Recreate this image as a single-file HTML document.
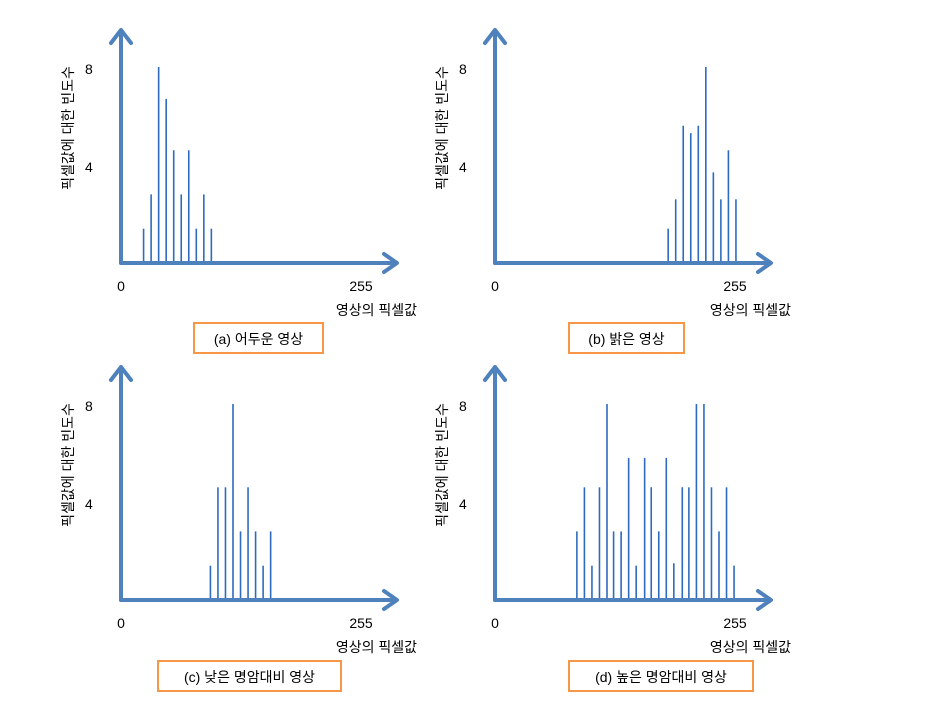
<!DOCTYPE html>
<html><head><meta charset="utf-8"><style>
html,body{margin:0;padding:0;background:#fff;width:945px;height:702px;overflow:hidden}
svg text{font-family:"Liberation Sans","Noto Sans CJK KR",sans-serif;fill:#000}
</style></head><body>
<svg id="s" width="945" height="702" xmlns="http://www.w3.org/2000/svg">
<defs><marker id="ar" markerWidth="6" markerHeight="6" refX="3" refY="3" orient="auto" markerUnits="userSpaceOnUse" viewBox="0 0 6 6"></marker></defs>
</svg>
<script>
const panelTitles = ["(a) 어두운 영상","(b) 밝은 영상","(c) 낮은 명암대비 영상","(d) 높은 명암대비 영상"];
const tickLabelsY = [8,4];
const tickLabelsX = [0,255];
const pixA = [24,32,40,48,56,64,72,80,88,96];
const freqA = [1.4,2.8,8,6.7,4.6,2.8,4.6,1.4,2.8,1.4];
const pixB = [184,192,200,208,216,224,232,240,248,256];
const freqB = [1.4,2.6,5.6,5.3,5.6,8,3.7,2.6,4.6,2.6];
const pixC = [95,103,111,119,127,135,143,151,159];
const freqC = [1.4,4.6,4.6,8,2.8,4.6,2.8,1.4,2.8];
const pixD = [87,95,103,111,119,126,134,142,150,159,166,174,182,190,199,206,214,222,230,238,246,254];
const freqD = [2.8,4.6,1.4,4.6,8,2.8,2.8,5.8,1.4,5.8,4.6,2.8,5.8,1.5,4.6,4.6,8,8,4.6,2.8,4.6,1.4];

const pixs=[pixA,pixB,pixC,pixD], freqs=[freqA,freqB,freqC,freqD];
const ox=[121,495,121,495], oy=[263,263,600,600];
const boxes=[[194,323,129],[569,323,115],[158,661,183],[569,661,184]];
const s=document.getElementById('s');
const NS='http://www.w3.org/2000/svg';
function mk(t,a,p){const e=document.createElementNS(NS,t);for(const k in a)e.setAttribute(k,a[k]);(p||s).appendChild(e);return e;}
const blue='#4f81bd';
for(let i=0;i<4;i++){
  const X=ox[i],Y=oy[i];
  const xs=v=>X+v*(240/255), ys=v=>Y-v*24.5;
  const g=mk('g',{});
  
  
  // bars
  pixs[i].forEach((p,j)=>{
    const b=mk('line',{x1:xs(p),x2:xs(p),y1:Y,y2:ys(freqs[i][j]),stroke:'#2e6bc0','stroke-width':1.6},g);
    
    
  });
  // axes
  const ya=mk('path',{d:`M${X} ${Y} L${X} ${Y-232} M${X-10} ${Y-220} L${X} ${Y-233} L${X+10} ${Y-220}`,stroke:blue,'stroke-width':4,fill:'none','stroke-linecap':'round','stroke-linejoin':'round'},g);
  
  
  const xa=mk('path',{d:`M${X} ${Y} L${X+275} ${Y} M${X+263} ${Y-9} L${X+276} ${Y} L${X+263} ${Y+9}`,stroke:blue,'stroke-width':4,fill:'none','stroke-linecap':'round','stroke-linejoin':'round'},g);
  
  
  tickLabelsY.forEach(v=>{
    const t=mk('text',{x:X-36,y:ys(v)+7,'font-size':14},g);t.textContent=v;
    
    
  });
  tickLabelsX.forEach(v=>{
    const t=mk('text',{x:xs(v),y:Y+28,'font-size':14,'text-anchor':'middle'},g);t.textContent=v;
    
    
  });
  const xt=mk('text',{x:X+296,y:Y+52,'font-size':14,'text-anchor':'end'},g);xt.textContent='영상의 픽셀값';
  
  
  const yt=mk('text',{x:0,y:0,'font-size':14,'text-anchor':'middle',transform:`translate(${X-48},${Y-135}) rotate(-90)`},g);yt.textContent='픽셀값에 대한 빈도수';
  
  
  const [bx,by,bw]=boxes[i];
  const r=mk('rect',{x:bx,y:by,width:bw,height:30,fill:'#fff',stroke:'#f79646','stroke-width':2},g);
  
  
  const ct=mk('text',{x:bx+bw/2,y:by+21,'font-size':14,'text-anchor':'middle'},g);ct.textContent=panelTitles[i];
  
  
}
</script>
</body></html>
